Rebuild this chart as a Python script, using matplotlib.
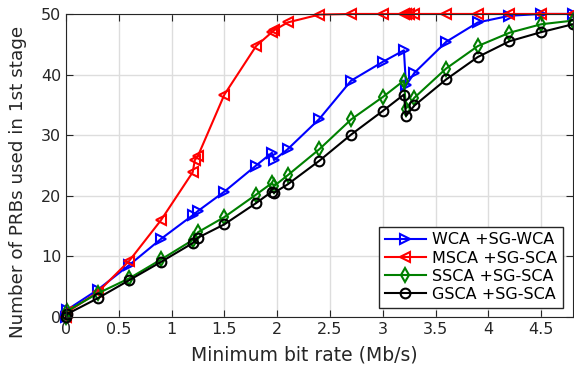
import matplotlib
matplotlib.use("Agg")
from matplotlib import pyplot as plt

# taxa minima (Mb/s) e numero de PRBs por algoritmo
x = [0, 0.01, 0.3, 0.6, 0.9, 1.2, 1.25, 1.5, 1.8, 1.95, 1.97, 2.1, 2.4, 2.7,
     3.0, 3.2, 3.22, 3.3, 3.6, 3.9, 4.2, 4.5, 4.8]
x_red = [0, 0.01, 0.3, 0.6, 0.9, 1.2, 1.22, 1.25, 1.5, 1.8, 1.95, 1.97, 2.1, 2.4,
         2.7, 3.0, 3.2, 3.22, 3.25, 3.3, 3.6, 3.9, 4.2, 4.5, 4.8]

wca = [0, 1.2, 4.5, 8.6, 12.9, 16.8, 17.5, 20.7, 25.0, 27.1, 25.9, 27.7, 32.7, 39.0,
       42.1, 44.0, 38.2, 40.3, 45.4, 48.6, 49.7, 50, 50]
msca = [0, 0.8, 4.1, 9.3, 16.0, 23.9, 25.9, 26.6, 36.7, 44.7, 47.0, 47.3, 48.6, 49.9,
        50, 50, 50, 50, 50, 50, 50, 50, 50, 50, 50]
ssca = [0, 1.0, 3.9, 6.4, 9.5, 12.7, 14.0, 16.5, 20.2, 22.1, 21.6, 23.4, 27.7, 32.6,
        36.3, 39.0, 34.4, 36.2, 41.0, 44.7, 46.9, 48.3, 48.9]
gsca = [0, 0.5, 3.1, 6.1, 9.1, 12.2, 13.1, 15.3, 18.8, 20.7, 20.5, 21.9, 25.8, 30.1,
        34.0, 36.7, 33.2, 34.9, 39.2, 42.9, 45.5, 47.0, 48.3]

labels = ['WCA +SG-WCA', 'MSCA +SG-SCA', 'SSCA +SG-SCA', 'GSCA +SG-SCA']

fig = plt.figure(figsize=(5.74, 3.67), dpi=100)
ax = fig.add_axes([0.115, 0.136, 0.883, 0.826])

estilo = dict(linewidth=1.5, markersize=7, fillstyle='none', markeredgewidth=1.5,
              clip_on=False)
ax.plot(x, wca, color='blue', marker='>', label=labels[0], **estilo)
ax.plot(x_red, msca, color='red', marker='<', label=labels[1], **estilo)
ax.plot(x, ssca, color='green', marker='d', label=labels[2], **estilo)
ax.plot(x, gsca, color='black', marker='o', label=labels[3], **estilo)

ax.set_xlim(0, 4.8)
ax.set_ylim(0, 50)
ax.set_xticks([0, 0.5, 1, 1.5, 2, 2.5, 3, 3.5, 4, 4.5])
ax.set_xticklabels(['0', '0.5', '1', '1.5', '2', '2.5', '3', '3.5', '4', '4.5'])
ax.set_yticks([0, 10, 20, 30, 40, 50])
ax.grid(True, color='#dddddd', linewidth=1)
ax.set_axisbelow(True)
ax.tick_params(direction='in', top=True, right=True, labelsize=11.5,
               colors='#262626', length=5)
for s in ax.spines.values():
    s.set_color('#262626')

ax.set_xlabel('Minimum bit rate (Mb/s)', fontsize=13.5, color='#262626', va='center')
ax.set_ylabel('Number of PRBs used in 1st stage', fontsize=13.2, color='#262626', va='center')
ax.xaxis.set_label_coords(0.471, -0.125)
ax.yaxis.set_label_coords(-0.095, 0.446)

leg = ax.legend(loc='lower right', fontsize=11.5, frameon=True, fancybox=False,
                edgecolor='#262626', framealpha=1, handlelength=2.6,
                borderaxespad=0.6, labelspacing=0.2, handletextpad=0.4,
                borderpad=0.35)
leg.get_frame().set_linewidth(1)

fig.savefig('out.png', dpi=100)
